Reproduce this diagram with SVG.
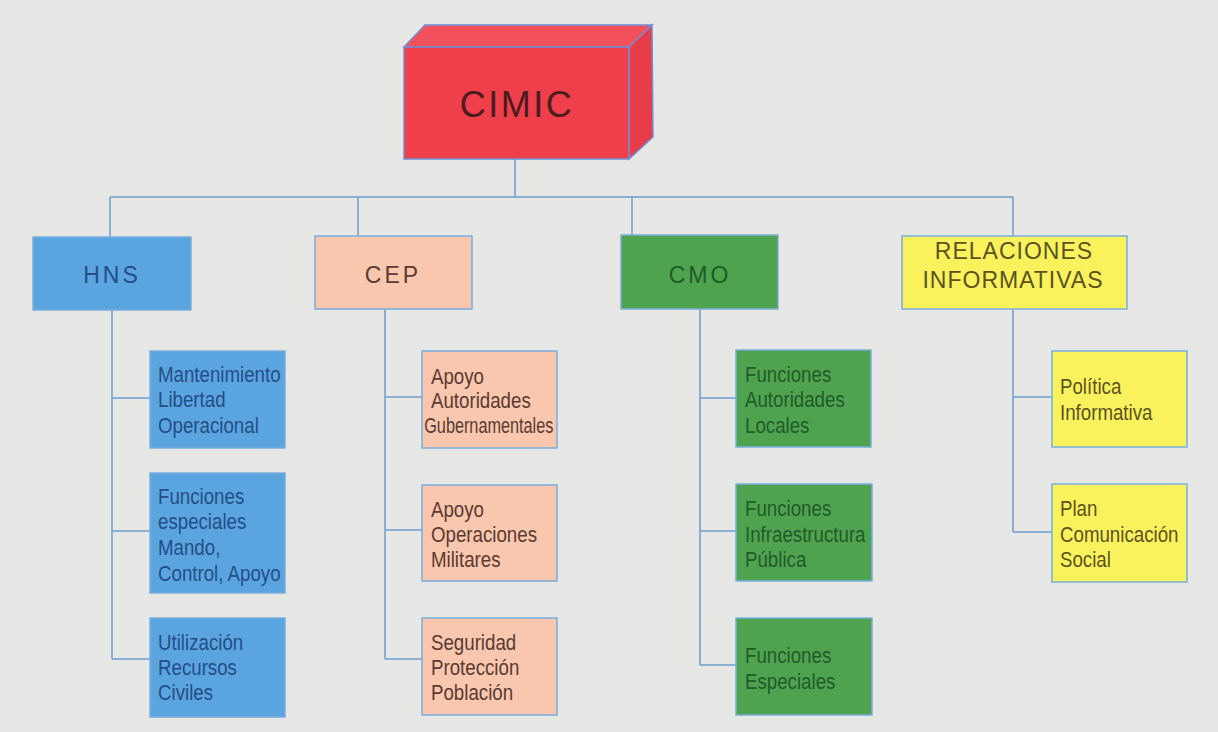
<svg xmlns="http://www.w3.org/2000/svg" width="1218" height="732" viewBox="0 0 1218 732">
  <style>
    .box { stroke: #79aede; stroke-width: 1.5; }
    .hns { fill: #5aa5e0; }
    .cep { fill: #f8c7ae; }
    .cmo { fill: #4fa34f; }
    .ri  { fill: #f9f25c; }
    .head { font-family: "Liberation Sans", Arial, sans-serif; font-size: 23px; text-anchor: middle; }
    .sub  { font-family: "Liberation Sans", Arial, sans-serif; font-size: 22px; }
    .t-hns { fill: #264d86; }
    .t-cep { fill: #5b3a33; }
    .t-cmo { fill: #215a2b; }
    .t-ri  { fill: #5c5222; }
    .link { fill: none; stroke: #6c9fd0; stroke-width: 1.5; }
  </style>

  <rect width="1218" height="732" fill="#e7e7e5"/>

  <!-- connectors -->
  <g id="connectors" class="link">
    <path d="M515 159 V197 M110 197 H1013 M110 197 V237 M358 197 V236 M632 197 V235 M1013 197 V236"/>
    <!-- HNS branch -->
    <path d="M112 310 V659 M112 398 H150 M112 531 H150 M112 659 H150"/>
    <!-- CEP branch -->
    <path d="M385 309 V659 M385 397 H422 M385 530 H422 M385 659 H422"/>
    <!-- CMO branch -->
    <path d="M700 309 V665 M700 398 H736 M700 531 H736 M700 665 H736"/>
    <!-- Relaciones branch -->
    <path d="M1013 309 V532 M1013 397 H1052 M1013 532 H1052"/>
  </g>

  <!-- root block drawn as a 3D box -->
  <g id="cimic">
    <polygon points="404,47 425,25 652,25 629,47" fill="#f2505a" stroke="#6f8fd6" stroke-width="1.5"/>
    <polygon points="629,47 652,25 653,137 629,159" fill="#e83c48" stroke="#6f8fd6" stroke-width="1.5"/>
    <rect x="404" y="47" width="225" height="112" fill="#ef3f4a" stroke="#6f8fd6" stroke-width="1.5"/>
    <text x="517" y="117" font-family="Liberation Sans, Arial, sans-serif" font-size="36" letter-spacing="2.5" text-anchor="middle" fill="#4a1c20">CIMIC</text>
  </g>

  <!-- HNS -->
  <g id="hns">
    <rect class="box hns" x="33" y="237" width="158" height="73"/>
    <text class="head t-hns" x="112" y="283" letter-spacing="3">HNS</text>
  </g>
  <g id="hns-1">
    <rect class="box hns" x="150" y="351" width="135" height="97"/>
    <g transform="translate(158,0) scale(0.85,1)">
      <text class="sub t-hns"><tspan x="0" y="382">Mantenimiento</tspan><tspan x="0" y="407">Libertad</tspan><tspan x="0" y="433">Operacional</tspan></text>
    </g>
  </g>
  <g id="hns-2">
    <rect class="box hns" x="150" y="473" width="135" height="120"/>
    <g transform="translate(158,0) scale(0.85,1)">
      <text class="sub t-hns"><tspan x="0" y="504">Funciones</tspan><tspan x="0" y="529">especiales</tspan><tspan x="0" y="555">Mando,</tspan><tspan x="0" y="581">Control, Apoyo</tspan></text>
    </g>
  </g>
  <g id="hns-3">
    <rect class="box hns" x="150" y="618" width="135" height="99"/>
    <g transform="translate(158,0) scale(0.85,1)">
      <text class="sub t-hns"><tspan x="0" y="650">Utilización</tspan><tspan x="0" y="675">Recursos</tspan><tspan x="0" y="700">Civiles</tspan></text>
    </g>
  </g>

  <!-- CEP -->
  <g id="cep">
    <rect class="box cep" x="315" y="236" width="157" height="73"/>
    <text class="head t-cep" x="393" y="283" letter-spacing="3">CEP</text>
  </g>
  <g id="cep-1">
    <rect class="box cep" x="422" y="351" width="135" height="97"/>
    <g transform="translate(431,0) scale(0.85,1)">
      <text class="sub t-cep"><tspan x="0" y="384">Apoyo</tspan><tspan x="0" y="408">Autoridades</tspan><tspan x="-8" y="433" textLength="152" lengthAdjust="spacingAndGlyphs">Gubernamentales</tspan></text>
    </g>
  </g>
  <g id="cep-2">
    <rect class="box cep" x="422" y="485" width="135" height="96"/>
    <g transform="translate(431,0) scale(0.85,1)">
      <text class="sub t-cep"><tspan x="0" y="517">Apoyo</tspan><tspan x="0" y="542">Operaciones</tspan><tspan x="0" y="567">Militares</tspan></text>
    </g>
  </g>
  <g id="cep-3">
    <rect class="box cep" x="422" y="618" width="135" height="97"/>
    <g transform="translate(431,0) scale(0.85,1)">
      <text class="sub t-cep"><tspan x="0" y="650">Seguridad</tspan><tspan x="0" y="675">Protección</tspan><tspan x="0" y="700">Población</tspan></text>
    </g>
  </g>

  <!-- CMO -->
  <g id="cmo">
    <rect class="box cmo" x="621" y="235" width="157" height="74"/>
    <text class="head t-cmo" x="700" y="283" letter-spacing="3">CMO</text>
  </g>
  <g id="cmo-1">
    <rect class="box cmo" x="736" y="350" width="135" height="97"/>
    <g transform="translate(745,0) scale(0.85,1)">
      <text class="sub t-cmo"><tspan x="0" y="382">Funciones</tspan><tspan x="0" y="407">Autoridades</tspan><tspan x="0" y="433">Locales</tspan></text>
    </g>
  </g>
  <g id="cmo-2">
    <rect class="box cmo" x="736" y="484" width="136" height="97"/>
    <g transform="translate(745,0) scale(0.85,1)">
      <text class="sub t-cmo"><tspan x="0" y="516">Funciones</tspan><tspan x="0" y="542">Infraestructura</tspan><tspan x="0" y="567">Pública</tspan></text>
    </g>
  </g>
  <g id="cmo-3">
    <rect class="box cmo" x="736" y="618" width="136" height="97"/>
    <g transform="translate(745,0) scale(0.85,1)">
      <text class="sub t-cmo"><tspan x="0" y="663">Funciones</tspan><tspan x="0" y="689">Especiales</tspan></text>
    </g>
  </g>

  <!-- Relaciones Informativas -->
  <g id="relaciones">
    <rect class="box ri" x="902" y="236" width="225" height="73"/>
    <text class="head t-ri" x="1014" y="259" letter-spacing="1">RELACIONES</text>
    <text class="head t-ri" x="1013" y="288" letter-spacing="1">INFORMATIVAS</text>
  </g>
  <g id="ri-1">
    <rect class="box ri" x="1052" y="351" width="135" height="96"/>
    <g transform="translate(1060,0) scale(0.85,1)">
      <text class="sub t-ri"><tspan x="0" y="394">Política</tspan><tspan x="0" y="420">Informativa</tspan></text>
    </g>
  </g>
  <g id="ri-2">
    <rect class="box ri" x="1052" y="484" width="135" height="98"/>
    <g transform="translate(1060,0) scale(0.85,1)">
      <text class="sub t-ri"><tspan x="0" y="516">Plan</tspan><tspan x="0" y="542">Comunicación</tspan><tspan x="0" y="567">Social</tspan></text>
    </g>
  </g>
</svg>
